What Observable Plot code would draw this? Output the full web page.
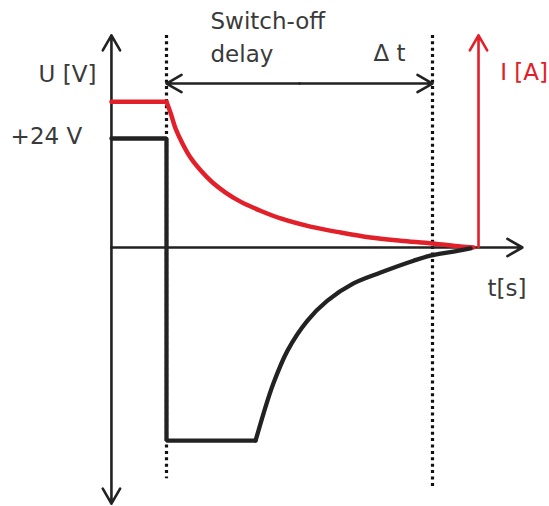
<!DOCTYPE html>
<html>
<head>
<meta charset="utf-8">
<script src="https://cdn.jsdelivr.net/npm/d3@7"></script>
<script src="https://cdn.jsdelivr.net/npm/@observablehq/plot@0.6"></script>
<style>
  html, body { margin: 0; padding: 0; background: #fff; }
  #chart svg { display: block; }
</style>
</head>
<body>
<div id="chart"></div>
<script>
// ---- Data (schematic units: t in delay units, U in volts-like units) ----
// Current (red): flat level before switch-off, then decay
const tRedFlat = [-2.07, 0];
const iRedFlat = [32.1, 32.1];
const tRedDecay = [0, 0.15, 0.34, 0.60, 0.90, 1.28, 1.73, 2.22, 2.78, 3.53, 4.29, 5.41, 6.54, 7.67, 8.80, 10, 11.05, 11.54];
const iRedDecay = [32.1, 29.7, 26.2, 22.9, 19.8, 17.0, 14.3, 12.1, 10.1, 8.1, 6.4, 4.6, 3.3, 2.2, 1.5, 0.9, 0.2, 0];

// Voltage (black): +24 V, drop to negative clamp, then recovery
const tVoltStep = [-2.07, 0, 0, 3.35];
const uVoltStep = [24, 24, -42.5, -42.5];
const tVoltTail = [3.35, 3.65, 4.02, 4.55, 5.30, 6.05, 7.03, 8.05, 9.29, 9.92, 10.79, 11.43];
const uVoltTail = [-42.5, -36.5, -29.9, -22.7, -16.1, -11.7, -7.9, -5.5, -2.9, -1.8, -0.9, -0.2];

// Axes / guides
const axisT0 = -2.07;      // vertical axis position
const axisTop = 46.7;      // top arrow tip
const axisBottom = -56.4;  // bottom arrow tip
const axisTEnd = 13.38;    // time axis arrow tip
const currentAxisT = 11.73;
const switchOffT = 0;
const deltaEndT = 10;
const dottedBottoms = [-50.9, -52.8];
const delayArrowU = 36.1;

// Labels
const labelText = ["Switch-off", "delay", "Δ t", "U [V]", "+24 V", "I [A]", "t[s]"];
const labelT = [1.654, 1.654, 7.78, -4.81, -5.86, 14.34, 12.07];
const labelU = [48.0, 40.95, 41.17, 36.33, 22.68, 36.77, -10.57];
const labelAnchor = ["start", "start", "start", "start", "start", "end", "start"];
const labelColor = ["#3a3a3a", "#3a3a3a", "#3a3a3a", "#3a3a3a", "#3a3a3a", "#e2202a", "#3a3a3a"];

// ---- Build tables ----
const zip = (T, V) => T.map((t, i) => ({t, v: V[i]}));
const redFlat = zip(tRedFlat, iRedFlat);
const redDecay = zip(tRedDecay, iRedDecay);
const voltStep = zip(tVoltStep, uVoltStep);
const voltTail = zip(tVoltTail, uVoltTail);
const labels = labelText.map((s, i) => ({s, t: labelT[i], v: labelU[i], c: labelColor[i], a: labelAnchor[i]}));

const blackArrows = [
  {x1: axisT0, y1: 0, x2: axisT0, y2: axisTop},
  {x1: axisT0, y1: 0, x2: axisT0, y2: axisBottom},
  {x1: axisT0, y1: 0, x2: axisTEnd, y2: 0},
  {x1: (switchOffT + deltaEndT) / 2, y1: delayArrowU, x2: switchOffT, y2: delayArrowU},
  {x1: (switchOffT + deltaEndT) / 2, y1: delayArrowU, x2: deltaEndT, y2: delayArrowU}
];
const redArrows = [{x1: currentAxisT, y1: 0, x2: currentAxisT, y2: axisTop}];
const dotted = [
  {t: switchOffT, y1: axisTop, y2: dottedBottoms[0]},
  {t: deltaEndT, y1: axisTop, y2: dottedBottoms[1]}
];

const W = 549, H = 506;
const pxPerT = 26.6, x0px = 166, pxPerU = 4.542, y0px = 247;

const BLACK = "#222222", RED = "#e2202a";
const textOpts = {x: "t", y: "v", text: "s", fill: "c", lineAnchor: "bottom", fontFamily: "DejaVu Sans", fontSize: 23};

const chart = Plot.plot({
  width: W,
  height: H,
  margin: 0,
  x: {domain: [(0 - x0px) / pxPerT, (W - x0px) / pxPerT], axis: null},
  y: {domain: [(y0px - H) / pxPerU, y0px / pxPerU], axis: null},
  style: {background: "#fff"},
  marks: [
    Plot.ruleX(dotted, {x: "t", y1: "y1", y2: "y2", stroke: "#111", strokeWidth: 3.2, strokeDasharray: "3,3.4"}),
    Plot.arrow(blackArrows, {x1: "x1", y1: "y1", x2: "x2", y2: "y2", stroke: BLACK, strokeWidth: 2.6, headLength: 10, headAngle: 60}),
    Plot.line(redFlat, {x: "t", y: "v", stroke: RED, strokeWidth: 4.5, curve: "linear"}),
    Plot.line(redDecay, {x: "t", y: "v", stroke: RED, strokeWidth: 4.5, curve: "catmull-rom"}),
    Plot.arrow(redArrows, {x1: "x1", y1: "y1", x2: "x2", y2: "y2", stroke: RED, strokeWidth: 2.6, headLength: 10, headAngle: 60}),
    Plot.line(voltStep, {x: "t", y: "v", stroke: BLACK, strokeWidth: 4.3, curve: "linear", strokeLinejoin: "miter"}),
    Plot.line(voltTail, {x: "t", y: "v", stroke: BLACK, strokeWidth: 4.3, curve: "catmull-rom"}),
    Plot.text(labels.filter(d => d.a === "start"), {...textOpts, textAnchor: "start"}),
    Plot.text(labels.filter(d => d.a === "end"), {...textOpts, textAnchor: "end"})
  ]
});
document.getElementById("chart").appendChild(chart);
</script>
</body>
</html>
